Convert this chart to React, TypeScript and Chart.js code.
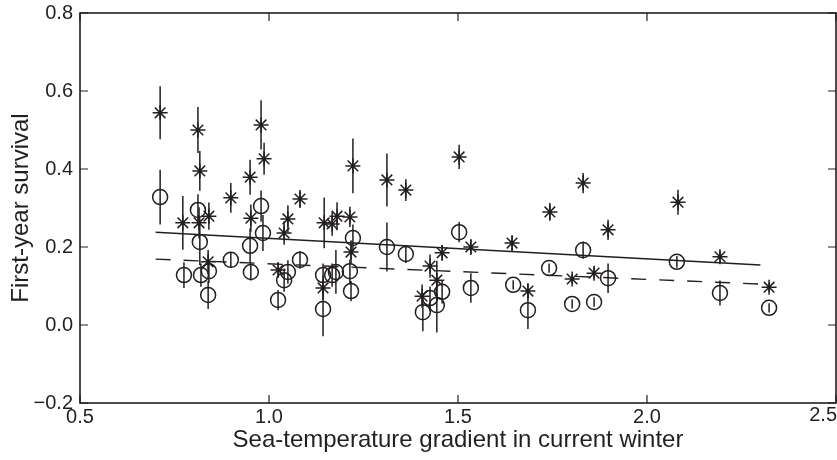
import React, { useEffect, useRef } from 'react';
import { Chart, registerables } from 'chart.js';

Chart.register(...registerables);

// ---- data ----
const starX = [0.712, 0.812, 0.817, 0.772, 0.815, 0.841, 0.839, 0.899, 0.950, 0.952, 0.979, 0.987, 1.040, 1.050, 1.024, 1.082, 1.146, 1.143, 1.167, 1.180, 1.214, 1.222, 1.217, 1.312, 1.362, 1.503, 1.405, 1.426, 1.444, 1.458, 1.534, 1.643, 1.743, 1.831, 1.897, 1.685, 1.802, 1.860, 2.082, 2.193, 2.323];
const starY = [0.544, 0.500, 0.395, 0.262, 0.262, 0.279, 0.162, 0.326, 0.379, 0.274, 0.513, 0.426, 0.236, 0.272, 0.141, 0.323, 0.262, 0.095, 0.259, 0.279, 0.277, 0.408, 0.187, 0.372, 0.346, 0.431, 0.074, 0.151, 0.115, 0.185, 0.200, 0.210, 0.290, 0.364, 0.244, 0.087, 0.118, 0.133, 0.315, 0.175, 0.097];
const starErr = [0.068, 0.059, 0.051, 0.069, 0.040, 0.035, 0.030, 0.038, 0.045, 0.035, 0.063, 0.041, 0.030, 0.035, 0.020, 0.023, 0.065, 0.030, 0.030, 0.036, 0.026, 0.070, 0.030, 0.068, 0.028, 0.031, 0.030, 0.030, 0.050, 0.020, 0.020, 0.020, 0.023, 0.026, 0.026, 0.020, 0.012, 0.015, 0.032, 0.015, 0.012];

const circleX = [0.712, 0.812, 0.817, 0.775, 0.820, 0.841, 0.839, 0.899, 0.950, 0.952, 0.979, 0.984, 1.050, 1.040, 1.024, 1.082, 1.143, 1.143, 1.167, 1.177, 1.214, 1.217, 1.222, 1.312, 1.362, 1.503, 1.407, 1.426, 1.444, 1.458, 1.534, 1.646, 1.741, 1.831, 1.897, 1.685, 1.802, 1.860, 2.079, 2.193, 2.323];
const circleY = [0.328, 0.295, 0.213, 0.128, 0.128, 0.138, 0.077, 0.167, 0.203, 0.136, 0.305, 0.236, 0.136, 0.115, 0.064, 0.167, 0.128, 0.041, 0.128, 0.136, 0.138, 0.087, 0.223, 0.200, 0.182, 0.238, 0.033, 0.069, 0.051, 0.085, 0.095, 0.103, 0.146, 0.192, 0.120, 0.038, 0.054, 0.059, 0.162, 0.082, 0.044];
const circleErr = [0.070, 0.040, 0.060, 0.033, 0.030, 0.030, 0.036, 0.020, 0.045, 0.022, 0.040, 0.046, 0.030, 0.030, 0.026, 0.023, 0.030, 0.070, 0.030, 0.056, 0.030, 0.026, 0.035, 0.063, 0.023, 0.026, 0.049, 0.030, 0.070, 0.030, 0.038, 0.012, 0.012, 0.022, 0.038, 0.048, 0.012, 0.012, 0.015, 0.032, 0.012];

const fitX = [0.70, 2.30];
const fitSolid = [0.238, 0.154];
const fitDashed = [0.169, 0.105];

const xTicks = [0.5, 1.0, 1.5, 2.0, 2.5];
const yTicks = [-0.2, 0.0, 0.2, 0.4, 0.6, 0.8];

const xTitle = 'Sea-temperature gradient in current winter';
const yTitle = 'First-year survival';

const INK = '#231f20';
const FONT = "'Liberation Sans', Arial, Helvetica, sans-serif";
const TICK_SIZE = 20;
const TITLE_SIZE = 24;

function errorSegments(xs: number[], ys: number[], es: number[]) {
  const out: { x: number; y: number | null }[] = [];
  xs.forEach((x, i) => {
    out.push({ x, y: ys[i] - es[i] });
    out.push({ x, y: ys[i] + es[i] });
    out.push({ x, y: null });
  });
  return out;
}

const fmt = (v: number) => v.toFixed(1).replace('-', '\u2212');
const lastX = xTicks[xTicks.length - 1];

const frameTicks = {
  id: 'frameTicks',
  afterDraw(chart: any) {
    const { ctx, chartArea, width } = chart;
    const { left, right, top, bottom } = chartArea;
    const xs = chart.scales.x;
    const ys = chart.scales.y;
    const len = 8;
    ctx.save();
    ctx.strokeStyle = INK;
    ctx.lineWidth = 1.6;
    ctx.strokeRect(left, top, right - left, bottom - top);
    ctx.lineWidth = 1.2;
    ctx.beginPath();
    xs.ticks.forEach((t: any) => {
      const px = xs.getPixelForValue(t.value);
      ctx.moveTo(px, bottom);
      ctx.lineTo(px, bottom - len);
      ctx.moveTo(px, top);
      ctx.lineTo(px, top + len);
    });
    ys.ticks.forEach((t: any) => {
      const py = ys.getPixelForValue(t.value);
      ctx.moveTo(left, py);
      ctx.lineTo(left + len, py);
      ctx.moveTo(right, py);
      ctx.lineTo(right - len, py);
    });
    ctx.stroke();
    // last x tick label, kept inside the canvas edge
    ctx.fillStyle = INK;
    ctx.font = `${TICK_SIZE}px ${FONT}`;
    ctx.textAlign = 'right';
    ctx.textBaseline = 'top';
    ctx.fillText(fmt(lastX), Math.min(width, xs.getPixelForValue(lastX) + 20), xs.top + 2);
    ctx.restore();
  },
};

export default function App() {
  const ref = useRef<HTMLCanvasElement | null>(null);

  useEffect(() => {
    if (!ref.current) return;
    const chart = new Chart(ref.current, {
      type: 'scatter',
      data: {
        datasets: [
          {
            type: 'line',
            label: 'star error',
            data: errorSegments(starX, starY, starErr),
            showLine: true,
            spanGaps: false,
            borderColor: INK,
            borderWidth: 1.5,
            pointRadius: 0,
          } as any,
          {
            type: 'line',
            label: 'circle error',
            data: errorSegments(circleX, circleY, circleErr),
            showLine: true,
            spanGaps: false,
            borderColor: INK,
            borderWidth: 1.5,
            pointRadius: 0,
          } as any,
          {
            label: 'stars',
            data: starX.map((x, i) => ({ x, y: starY[i] })),
            pointStyle: 'star',
            pointRadius: 7.5,
            borderColor: INK,
            backgroundColor: INK,
            borderWidth: 1.5,
          },
          {
            label: 'circles',
            data: circleX.map((x, i) => ({ x, y: circleY[i] })),
            pointStyle: 'circle',
            pointRadius: 7.5,
            borderColor: INK,
            backgroundColor: 'rgba(0,0,0,0)',
            borderWidth: 1.5,
          },
          {
            type: 'line',
            label: 'fit solid',
            data: fitX.map((x, i) => ({ x, y: fitSolid[i] })),
            showLine: true,
            borderColor: INK,
            borderWidth: 1.4,
            pointRadius: 0,
          } as any,
          {
            type: 'line',
            label: 'fit dashed',
            data: fitX.map((x, i) => ({ x, y: fitDashed[i] })),
            showLine: true,
            borderColor: INK,
            borderWidth: 1.4,
            borderDash: [15, 13],
            pointRadius: 0,
          } as any,
        ],
      },
      options: {
        responsive: false,
        animation: false,
        layout: { autoPadding: false, padding: { top: 13, right: 1, left: 0, bottom: 0 } },
        plugins: {
          legend: { display: false },
          tooltip: { enabled: false },
        },
        scales: {
          x: {
            type: 'linear',
            min: 0.5,
            max: 2.5,
            afterBuildTicks: (s: any) => {
              s.ticks = xTicks.map((v) => ({ value: v }));
            },
            afterFit: (s: any) => {
              s.height = 57;
              s.paddingLeft = 0;
              s.paddingRight = 0;
            },
            grid: { display: false, drawTicks: false },
            border: { display: false },
            ticks: {
              color: INK,
              font: { family: FONT, size: TICK_SIZE },
              padding: 2,
              maxRotation: 0,
              autoSkip: false,
              callback: (v: any) => (Number(v) === lastX ? '' : fmt(Number(v))),
            },
            title: {
              display: true,
              text: xTitle,
              color: INK,
              font: { family: FONT, size: TITLE_SIZE },
              padding: { top: 0, bottom: 5 },
            },
          },
          y: {
            type: 'linear',
            min: -0.2,
            max: 0.8,
            afterBuildTicks: (s: any) => {
              s.ticks = yTicks.map((v) => ({ value: v }));
            },
            afterFit: (s: any) => {
              s.width = 80;
              s.paddingTop = 0;
              s.paddingBottom = 0;
            },
            grid: { display: false, drawTicks: false },
            border: { display: false },
            ticks: {
              color: INK,
              font: { family: FONT, size: TICK_SIZE },
              padding: 7,
              autoSkip: false,
              callback: (v: any) => fmt(Number(v)),
            },
            title: {
              display: true,
              text: yTitle,
              color: INK,
              font: { family: FONT, size: TITLE_SIZE },
              padding: { top: 7, bottom: 0 },
            },
          },
        },
      },
      plugins: [frameTicks],
    });
    return () => chart.destroy();
  }, []);

  return (
    <div style={{ position: 'fixed', left: 0, top: 0, width: 837, height: 460, background: '#fff' }}>
      <canvas ref={ref} width={837} height={460} />
    </div>
  );
}
